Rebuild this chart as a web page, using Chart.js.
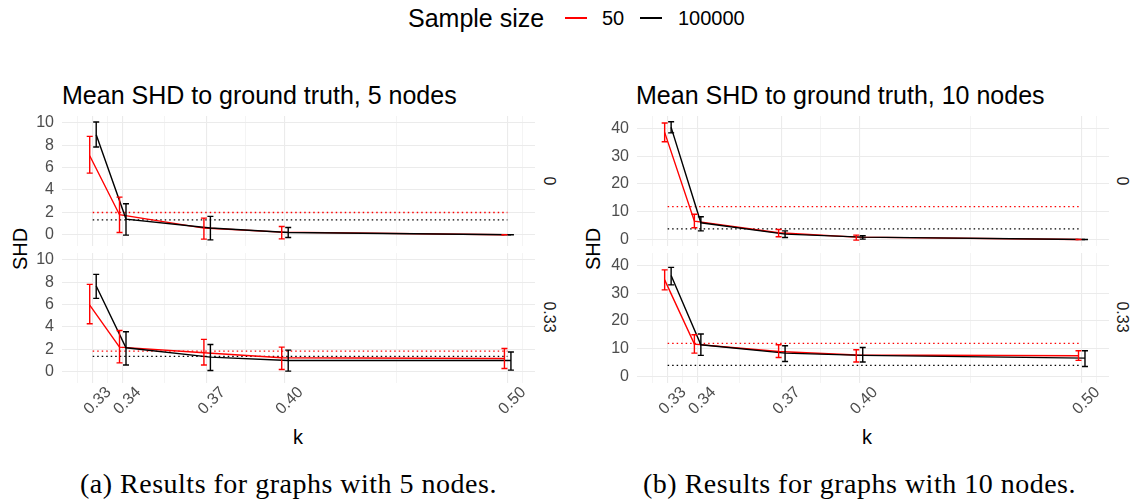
<!DOCTYPE html>
<html>
<head>
<meta charset="utf-8">
<script src="https://cdn.jsdelivr.net/npm/chart.js@4.4.1/dist/chart.umd.min.js"></script>
<style>
  body { margin: 0; width: 1133px; height: 500px; background: #fff; position: relative; overflow: hidden;
         font-family: 'Liberation Sans', Arial, sans-serif; }
  canvas { position: absolute; }
  .t { position: absolute; white-space: nowrap; line-height: 1; color: #000; }
  .c { transform: translate(-50%, -50%); }
  .up { transform: translate(-50%, -50%) rotate(-90deg); }
  .down { transform: translate(-50%, -50%) rotate(90deg); color: #1a1a1a; font-size: 16px; }
  .cap { font-family: 'Liberation Serif', 'DejaVu Serif', serif; font-size: 28px; letter-spacing: 0.5px; top: 470px; }
  .key { position: absolute; height: 2px; width: 22px; top: 17px; }
</style>
</head>
<body>

<div class="t" style="left:408px; top:6px; font-size:25px">Sample size</div>
<div class="key" style="left:565px; background:#ff0000"></div>
<div class="t" style="left:602px; top:8px; font-size:20px">50</div>
<div class="key" style="left:640px; background:#000"></div>
<div class="t" style="left:678px; top:8px; font-size:20px">100000</div>

<div class="t" style="left:62px; top:83px; font-size:25px">Mean SHD to ground truth, 5 nodes</div>
<div class="t" style="left:636px; top:83px; font-size:25px">Mean SHD to ground truth, 10 nodes</div>

<div class="t up" style="left:20px; top:249px; font-size:20px">SHD</div>
<div class="t up" style="left:593px; top:249px; font-size:20px">SHD</div>

<div class="t down" style="left:549px; top:181px">0</div>
<div class="t down" style="left:549px; top:317px">0.33</div>
<div class="t down" style="left:1122px; top:181px">0</div>
<div class="t down" style="left:1122px; top:317px">0.33</div>

<div class="t c" style="left:298px; top:437px; font-size:20px">k</div>
<div class="t c" style="left:867px; top:437px; font-size:20px">k</div>

<div class="t cap" style="left:80px">(a) Results for graphs with 5 nodes.</div>
<div class="t cap" style="left:643px">(b) Results for graphs with 10 nodes.</div>

<canvas id="a0" width="547" height="170" style="left:0px; top:96px"></canvas>
<canvas id="a1" width="547" height="195" style="left:0px; top:233px"></canvas>
<canvas id="b0" width="546" height="170" style="left:575px; top:96px"></canvas>
<canvas id="b1" width="546" height="195" style="left:575px; top:233px"></canvas>

<script>
const kValues = [0.33, 0.34, 0.37, 0.40, 0.50]
const kMinor = [0.3251, 0.33496, 0.35468, 0.38471, 0.44721, 0.5075]

// 5 nodes, facet 0
const mean5_0_s50 = [7.05, 1.79, 0.6, 0.24, 0]
const lo5_0_s50 = [5.5, 0.2, -0.39, -0.36, 0]
const hi5_0_s50 = [8.78, 3.36, 1.49, 0.74, 0]
const mean5_0_s100k = [8.93, 1.4, 0.6, 0.21, 0]
const lo5_0_s100k = [7.83, -0.03, -0.45, -0.24, 0]
const hi5_0_s100k = [10.06, 2.77, 1.64, 0.65, 0]
const base5_0 = [1.99, 1.34]

// 5 nodes, facet 0.33
const mean5_1_s50 = [5.95, 2.2, 1.7, 1.25, 1.19]
const lo5_1_s50 = [4.29, 0.8, 0.6, 0.21, 0.3]
const hi5_1_s50 = [7.8, 3.69, 2.89, 2.2, 2.08]
const mean5_1_s100k = [7.65, 2.14, 1.31, 1.01, 1.01]
const lo5_1_s100k = [6.55, 0.6, 0.12, 0.06, 0.15]
const hi5_1_s100k = [8.69, 3.57, 2.44, 1.93, 1.76]
const base5_1 = [1.85, 1.37]

// 10 nodes, facet 0
const mean10_0_s50 = [38.6, 6.6, 2.4, 0.84, 0]
const lo10_0_s50 = [35.2, 4.2, 0.96, -0.24, 0]
const hi10_0_s50 = [42.0, 9.1, 3.6, 1.56, 0]
const mean10_0_s100k = [40.4, 6.0, 1.9, 0.84, 0]
const lo10_0_s100k = [38.4, 3.1, 0.72, 0.12, 0]
const hi10_0_s100k = [42.4, 8.2, 3.1, 1.3, 0]
const base10_0 = [11.8, 3.84]

// 10 nodes, facet 0.33
const mean10_1_s50 = [34.8, 11.65, 9.0, 7.7, 7.45]
const lo10_1_s50 = [31.2, 8.4, 6.85, 5.2, 5.77]
const hi10_1_s50 = [38.4, 15.0, 11.4, 9.6, 9.25]
const mean10_1_s100k = [36.4, 11.4, 8.4, 7.6, 6.6]
const lo10_1_s100k = [33.0, 7.6, 5.4, 5.2, 3.6]
const hi10_1_s100k = [39.3, 15.3, 11.05, 10.45, 9.25]
const base10_1 = [11.9, 3.96]

const yTicks5 = [0, 2, 4, 6, 8, 10]
const yMinor5 = [1, 3, 5, 7, 9]
const yTicks10 = [0, 10, 20, 30, 40]
const yMinor10 = [5, 15, 25, 35]

const red = '#ff0000'
const black = '#000000'
const gridColor = '#ebebeb'
const dodge50 = -0.003
const dodge100k = 0.0035

Chart.defaults.font.family = "'Liberation Sans', Arial, sans-serif"
Chart.defaults.color = '#4d4d4d'

// vertical error bars with small caps
const errorBars = {
    id: 'errorBars',
    afterDatasetsDraw(chart) {
        const { ctx } = chart
        const x = chart.scales.x, y = chart.scales.y
        ctx.save()
        ctx.lineWidth = 1.4
        chart.data.datasets.forEach(ds => {
            if (!ds.lo) return
            ctx.strokeStyle = ds.borderColor
            ds.data.forEach((p, i) => {
                const px = x.getPixelForValue(p.x)
                const top = y.getPixelForValue(ds.hi[i])
                const bot = y.getPixelForValue(ds.lo[i])
                ctx.beginPath()
                ctx.moveTo(px, top); ctx.lineTo(px, bot)
                ctx.moveTo(px - 3, top); ctx.lineTo(px + 3, top)
                ctx.moveTo(px - 3, bot); ctx.lineTo(px + 3, bot)
                ctx.stroke()
            })
        })
        ctx.restore()
    }
}

const isIn = (list, v) => list.some(t => Math.abs(t - v) < 1e-6)

const makeFacet = (id, yMin, yMax, yMajor, yMinor, s50, s100k, base, showX) => {
    const pts = (ys, shift) => kValues.map((k, i) => ({ x: k * Math.exp(shift), y: ys[i] }))
    const hline = v => [{ x: kValues[0], y: v }, { x: kValues[kValues.length - 1], y: v }]
    new Chart(document.getElementById(id), {
        type: 'line',
        data: {
            datasets: [
                { data: pts(s100k[0], dodge100k), lo: s100k[1], hi: s100k[2], borderColor: black, order: 0 },
                { data: pts(s50[0], dodge50), lo: s50[1], hi: s50[2], borderColor: red, order: 1 },
                { data: hline(base[0]), borderColor: red, borderDash: [1.5, 3], borderWidth: 1.3, order: 2 },
                { data: hline(base[1]), borderColor: black, borderDash: [1.5, 3], borderWidth: 1.3, order: 3 }
            ]
        },
        options: {
            responsive: false,
            animation: false,
            layout: { padding: { left: 0, top: 20, right: 12, bottom: showX ? 0 : 20 } },
            plugins: { legend: { display: false }, tooltip: { enabled: false } },
            elements: { point: { radius: 0 }, line: { borderWidth: 1.4, tension: 0 } },
            scales: {
                x: {
                    type: 'logarithmic',
                    min: 0.3216,
                    max: 0.514,
                    afterBuildTicks: s => { s.ticks = [...kValues, ...kMinor].sort((a, b) => a - b).map(v => ({ value: v })) },
                    afterFit: s => { s.height = showX ? 45 : 0 },
                    ticks: {
                        display: showX, autoSkip: false, minRotation: 45, maxRotation: 45,
                        padding: 0, labelOffset: 16, font: { size: 16 }, color: '#4d4d4d',
                        callback: v => isIn(kValues, v) ? v.toFixed(2) : ''
                    },
                    grid: { color: gridColor, drawTicks: false, lineWidth: c => isIn(kValues, c.tick.value) ? 1.1 : 0.55 },
                    border: { display: false }
                },
                y: {
                    min: yMin,
                    max: yMax,
                    afterBuildTicks: s => { s.ticks = [...yMajor, ...yMinor].sort((a, b) => a - b).map(v => ({ value: v })) },
                    afterFit: s => { s.width = 62 },
                    ticks: {
                        padding: 8, font: { size: 16 }, color: '#4d4d4d',
                        callback: v => isIn(yMajor, v) ? String(v) : ''
                    },
                    grid: { color: gridColor, drawTicks: false, lineWidth: c => isIn(yMajor, c.tick.value) ? 1.1 : 0.55 },
                    border: { display: false }
                }
            }
        },
        plugins: [errorBars]
    })
}

makeFacet('a0', -1, 10.6, yTicks5, yMinor5,
    [mean5_0_s50, lo5_0_s50, hi5_0_s50], [mean5_0_s100k, lo5_0_s100k, hi5_0_s100k], base5_0, false)
makeFacet('a1', -1, 10.6, yTicks5, yMinor5,
    [mean5_1_s50, lo5_1_s50, hi5_1_s50], [mean5_1_s100k, lo5_1_s100k, hi5_1_s100k], base5_1, true)
makeFacet('b0', -2.37, 44.5, yTicks10, yMinor10,
    [mean10_0_s50, lo10_0_s50, hi10_0_s50], [mean10_0_s100k, lo10_0_s100k, hi10_0_s100k], base10_0, false)
makeFacet('b1', -2.37, 44.5, yTicks10, yMinor10,
    [mean10_1_s50, lo10_1_s50, hi10_1_s50], [mean10_1_s100k, lo10_1_s100k, hi10_1_s100k], base10_1, true)
</script>
</body>
</html>
